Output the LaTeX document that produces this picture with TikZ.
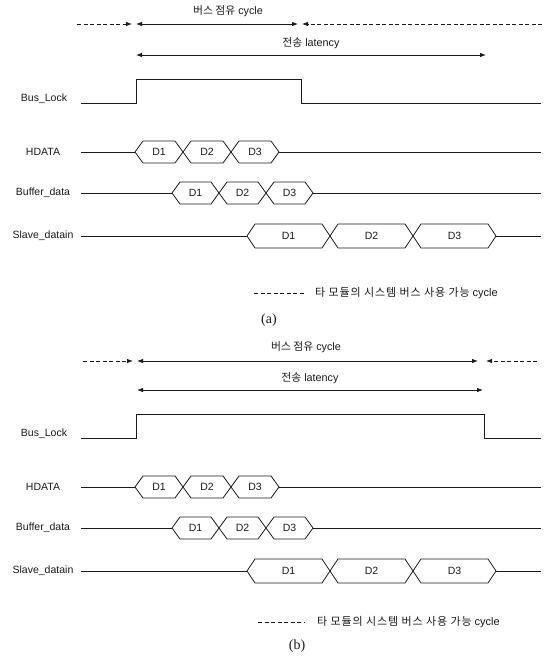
\documentclass[tikz,border=0pt]{standalone}
\usepackage{fontspec}
\setmainfont{Liberation Sans}
\newfontfamily\krfont{Noto Sans CJK KR}
\newfontfamily\krwide[LetterSpace=8]{Noto Sans CJK KR}
\newfontfamily\capfont{Liberation Serif}
\usepackage{tikz}
\usepackage{xcolor}
\usetikzlibrary{arrows.meta,positioning,calc}
\definecolor{ink}{HTML}{1A1A1A}
\definecolor{paper}{HTML}{FFFFFF}
\tikzset{
  sigline/.style={draw=ink,line width=0.8pt},
  busline/.style={draw=ink,line width=0.8pt,line join=miter},
  dashline/.style={draw=ink,line width=0.8pt,dash pattern=on 4pt off 2.5pt},
  tiparr/.style={-{Latex[length=6pt,width=4.5pt]}},
  bothtip/.style={{Latex[length=6pt,width=4.5pt]}-{Latex[length=6pt,width=4.5pt]}},
  sigtag/.style={font=\fontsize{10.5}{12}\selectfont,inner sep=0pt,text=ink},
  dtag/.style={font=\fontsize{10.5}{12}\selectfont,inner sep=0pt,text=ink},
  krtag/.style={font=\fontsize{10.8}{12}\selectfont,inner sep=0pt,text=ink},
  legtag/.style={font=\fontsize{11}{12}\selectfont,inner sep=0pt,text=ink,anchor=west},
  captag/.style={font=\fontsize{14}{16}\capfont,inner sep=0pt,text=ink}
}

\begin{document}
\begin{tikzpicture}[x=1pt,y=-1pt,>=Latex]
  \useasboundingbox[fill=paper] (0,0) rectangle (549,657);

  % panel (a): occupancy and latency
  \node[krtag] (occ-a) at (228,11) {{\krfont 버스 점유} cycle};
  \coordinate (occ-a-w) at (77,24);
  \coordinate (occ-a-l) at (132,24);
  \coordinate (occ-a-s) at (136,24);
  \coordinate (occ-a-e) at (298,24);
  \coordinate (occ-a-r) at (302,24);
  \coordinate (occ-a-x) at (542,24);
  \draw[dashline,tiparr] (occ-a-w) -- (occ-a-l);
  \draw[sigline,bothtip] (occ-a-s) -- (occ-a-e);
  \draw[dashline,tiparr] (occ-a-x) -- (occ-a-r);
  \node[krtag] (lat-a) at (311,43) {{\krfont 전송} latency};
  \coordinate (lat-a-s) at (136,55);
  \coordinate (lat-a-e) at (486,55);
  \draw[sigline,bothtip] (lat-a-s) -- (lat-a-e);

  % panel (b): occupancy and latency
  \node[krtag] (occ-b) at (306,347) {{\krfont 버스 점유} cycle};
  \coordinate (occ-b-w) at (83,361);
  \coordinate (occ-b-l) at (133,361);
  \coordinate (occ-b-s) at (137,361);
  \coordinate (occ-b-e) at (478,361);
  \coordinate (occ-b-r) at (486,361);
  \coordinate (occ-b-x) at (537,361);
  \draw[dashline,tiparr] (occ-b-w) -- (occ-b-l);
  \draw[sigline,bothtip] (occ-b-s) -- (occ-b-e);
  \draw[dashline,tiparr] (occ-b-x) -- (occ-b-r);
  \node[krtag] (lat-b) at (310,378) {{\krfont 전송} latency};
  \coordinate (lat-b-s) at (137,390);
  \coordinate (lat-b-e) at (483,390);
  \draw[sigline,bothtip] (lat-b-s) -- (lat-b-e);

  % Bus_Lock
  \foreach \dy/\p/\fall in {0/a/301,335/b/484} {
    \node[sigtag] (lock-\p) at (44,99+\dy) {Bus\_Lock};
    \draw[sigline] (81,103+\dy) -- (136,103+\dy) -- (136,79+\dy)
      -- (\fall,79+\dy) -- (\fall,103+\dy) -- (541,103+\dy);
  }

  % data buses
  \foreach \dy/\p in {0/a,335/b} {
    \foreach \row/\lab/\yy/\st/\w/\h in {hdata/HDATA/152/135/48/11,
        buf/Buffer\_data/193/172/47/11, slave/Slave\_datain/236/247/83/12} {
      \pgfmathsetmacro\y{\yy+\dy}
      \node[sigtag] (\row-\p) at (43,\y) {\lab};
      \draw[sigline] (81,\y) -- (\st,\y);
      \foreach \k in {0,1,2} {
        \pgfmathsetmacro\xa{\st+\k*\w}
        \pgfmathsetmacro\xb{\xa+\w}
        \pgfmathtruncatemacro\n{\k+1}
        \draw[busline] (\xa,\y) -- (\xa+8,\y-\h) -- (\xb-8,\y-\h) -- (\xb,\y)
          -- (\xb-8,\y+\h) -- (\xa+8,\y+\h) -- cycle;
        \node[dtag] (\row-\p-d\n) at ({(\xa+\xb)/2},\y) {D\n};
      }
      \draw[sigline] (\st+3*\w,\y) -- (541,\y);
    }
  }

  % legends and captions
  \coordinate (leg-a-s) at (254,293);
  \coordinate (leg-a-e) at (304,293);
  \draw[dashline] (leg-a-s) -- (leg-a-e);
  \node[legtag] (leg-a) at (315,293) {{\krwide 타 모듈의 시스템 버스 사용 가능} cycle};
  \node[captag] (cap-a) at (269,320) {(a)};
  \coordinate (leg-b-s) at (258,622);
  \coordinate (leg-b-e) at (304,622);
  \draw[dashline] (leg-b-s) -- (leg-b-e);
  \node[legtag] (leg-b) at (317,622) {{\krwide 타 모듈의 시스템 버스 사용 가능} cycle};
  \node[captag] (cap-b) at (297,646) {(b)};
\end{tikzpicture}
\end{document}
